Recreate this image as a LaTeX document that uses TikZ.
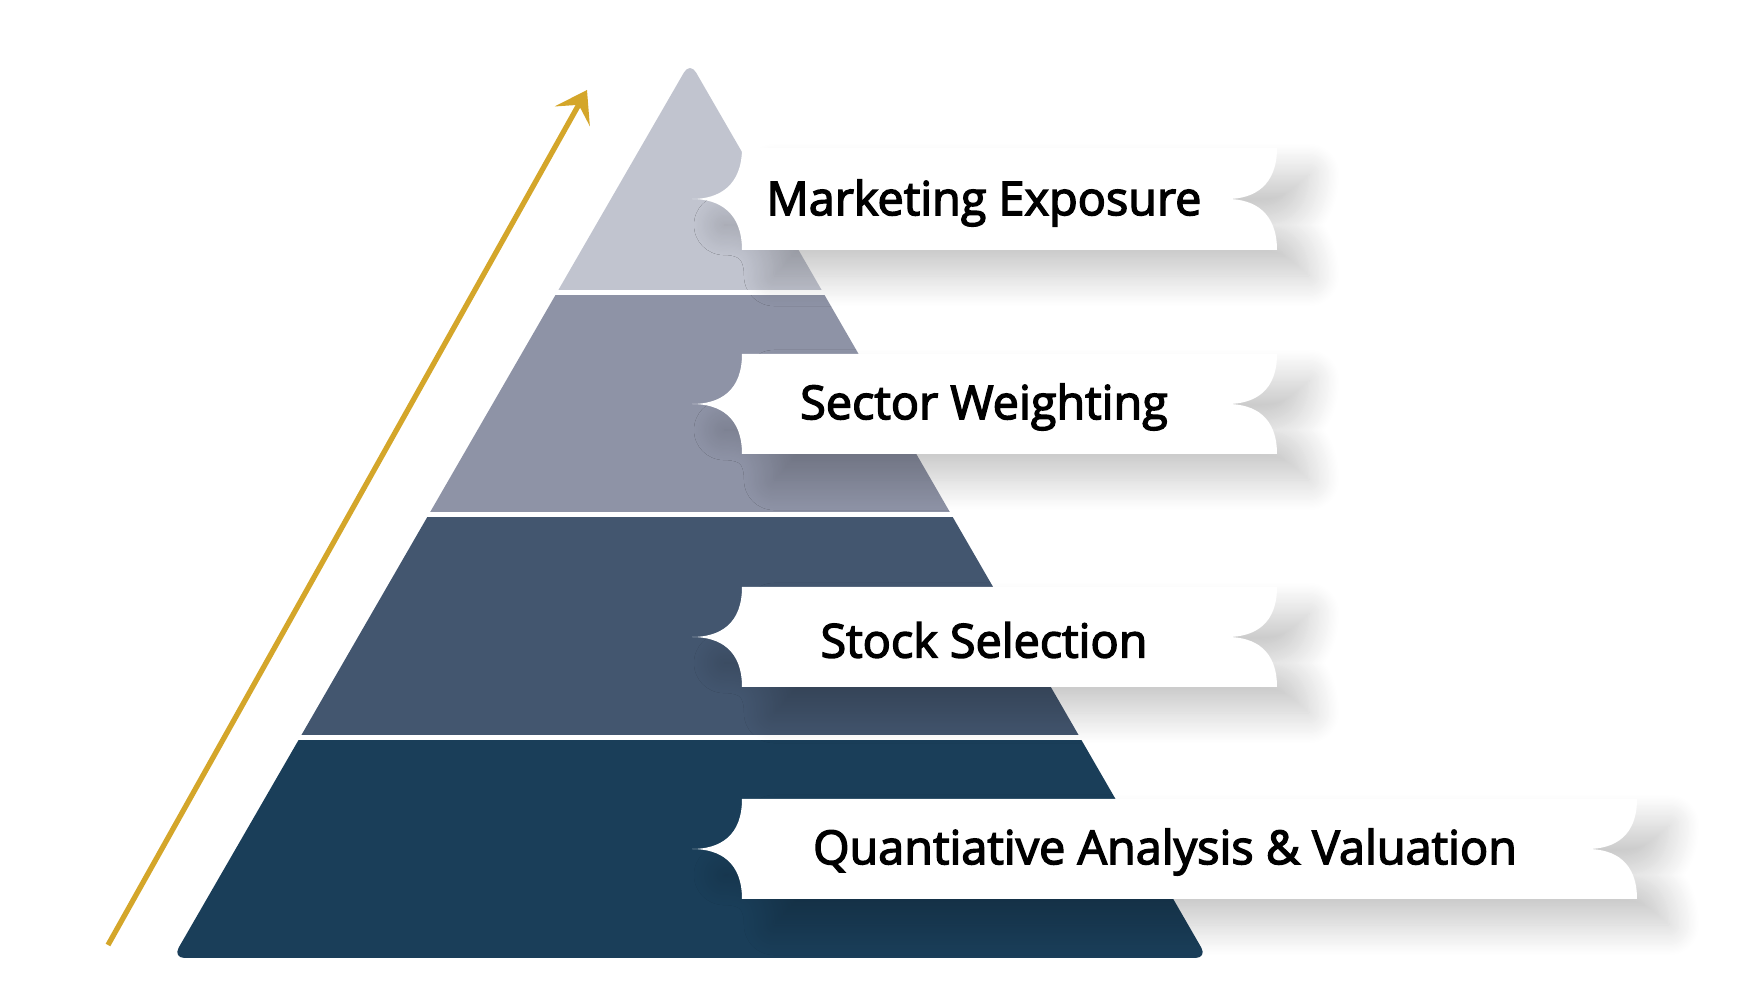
\documentclass[tikz,border=0pt]{standalone}
\usepackage{fontspec}
\setmainfont{Open Sans}
\newfontfamily\tierfont{Open Sans}[FakeBold=3]
\usepackage{tikz}
\usetikzlibrary{arrows.meta, shadows.blur}
\definecolor{tiertop}{HTML}{C1C4CF}
\definecolor{tiersector}{HTML}{8E93A6}
\definecolor{tierstock}{HTML}{43566F}
\definecolor{tierbase}{HTML}{1A3E59}
\definecolor{goldcolor}{HTML}{D4A62A}

\begin{document}
\begin{tikzpicture}[x=0.01cm, y=-0.01cm,
    banner/.style={fill=white, blur shadow={shadow xshift=0.32cm, shadow yshift=-0.26cm, shadow blur radius=0.3cm, shadow blur steps=25, shadow opacity=22}},
    tiertext/.style={font=\tierfont\fontsize{13.3}{16}\selectfont, text=black, inner sep=0pt},
    arrow/.style={-{Stealth[length=3mm, width=4mm, inset=1.3mm]}, goldcolor, line width=1.5pt}
]
\useasboundingbox (0,0) rectangle (1744,1004);

% pyramid, cut into four tiers
\begin{scope}
\clip[rounded corners=0.12cm] (690,62) -- (1207.3,958) -- (172.7,958) -- cycle;
\fill[tiertop] (0,0) rectangle (1744,290);
\fill[tiersector] (0,295) rectangle (1744,512);
\fill[tierstock] (0,517) rectangle (1744,735);
\fill[tierbase] (0,740) rectangle (1744,1004);
\end{scope}

% banners
\fill[banner] (742,148) -- (1277,148) .. controls (1277,185) and (1255,199) .. (1227,199) .. controls (1255,199) and (1277,213) .. (1277,250) -- (742,250) .. controls (742,213) and (720,199) .. (692,199) .. controls (720,199) and (742,185) .. cycle;
\fill[banner] (742,354) -- (1277,354) .. controls (1277,391) and (1255,404) .. (1227,404) .. controls (1255,404) and (1277,417) .. (1277,454) -- (742,454) .. controls (742,417) and (720,404) .. (692,404) .. controls (720,404) and (742,391) .. cycle;
\fill[banner] (742,587) -- (1277,587) .. controls (1277,624) and (1255,637) .. (1227,637) .. controls (1255,637) and (1277,650) .. (1277,687) -- (742,687) .. controls (742,650) and (720,637) .. (692,637) .. controls (720,637) and (742,624) .. cycle;
\fill[banner] (742,799) -- (1637,799) .. controls (1637,836) and (1615,849) .. (1587,849) .. controls (1615,849) and (1637,862) .. (1637,899) -- (742,899) .. controls (742,862) and (720,849) .. (692,849) .. controls (720,849) and (742,836) .. cycle;

\node[tiertext] (marketing) at (984,203) {Marketing Exposure};
\node[tiertext] (sector) at (984,407) {Sector Weighting};
\node[tiertext] (stock) at (984,640) {Stock Selection};
\node[tiertext] (quant) at (1165,852) {Quantiative Analysis \& Valuation};

% rising arrow
\coordinate (arrow base) at (108,945);
\coordinate (arrow top) at (587,90);
\draw[arrow] (arrow base) -- (arrow top);
\end{tikzpicture}
\end{document}
